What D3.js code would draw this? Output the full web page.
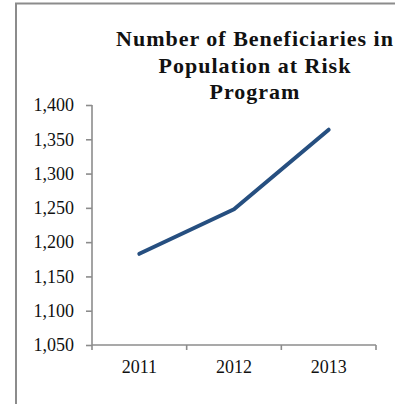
<!DOCTYPE html>
<html><head><meta charset="utf-8">
<script src="https://cdn.jsdelivr.net/npm/d3@7"></script>
<style>
html,body{margin:0;padding:0;background:#fff;}
svg{display:block;}
</style></head>
<body>
<svg id="chart" width="395" height="404"></svg>
<script>
const years = ["2011", "2012", "2013"];
const beneficiaries = [1183, 1248, 1364];
const yTicks = [1050, 1100, 1150, 1200, 1250, 1300, 1350, 1400];
const titleLines = ["Number of Beneficiaries in", "Population at Risk", "Program"];

const svg = d3.select("#chart");
const W = 395, H = 404;
const margin = {left: 92, right: 19, top: 105, bottom: 59};

// outer frame (only top and left visible)
svg.append("rect").attr("x", 16).attr("y", 3.5).attr("width", 420).attr("height", 440)
  .attr("fill", "none").attr("stroke", "#8c8c8c").attr("stroke-width", 2);

const x = d3.scaleBand().domain(years).range([margin.left, W - margin.right]).padding(0);
const y = d3.scaleLinear().domain([1050, 1400]).range([H - margin.bottom, margin.top]);

const font = "'Liberation Serif', 'Times New Roman', serif";

// y axis
const yAxis = svg.append("g").attr("transform", `translate(${margin.left},0)`)
  .call(d3.axisLeft(y).tickValues(yTicks).tickSize(6).tickPadding(12).tickFormat(d3.format(",")));
// x axis
const xAxis = svg.append("g").attr("transform", `translate(0,${H - margin.bottom})`)
  .call(d3.axisBottom(x).tickSize(0).tickPadding(15));
// x ticks at band boundaries
const bounds = years.map(d => x(d)).concat([x(years[years.length - 1]) + x.bandwidth()]);
xAxis.selectAll(".bound").data(bounds).join("line").attr("class", "bound")
  .attr("x1", d => d).attr("x2", d => d).attr("y1", 0).attr("y2", 5);

[yAxis, xAxis].forEach(g => {
  g.select(".domain").attr("stroke", "#8c8c8c").attr("stroke-width", 1.6);
  g.selectAll("line").attr("stroke", "#8c8c8c").attr("stroke-width", 1.6);
  g.selectAll("text").attr("font-family", font).attr("font-size", 18).attr("fill", "#111");
});
xAxis.select(".domain").attr("d", `M${margin.left},0H${W - margin.right}`);
yAxis.select(".domain").attr("d", `M0,${y(1400)}V${y(1050)}`);

// line
const line = d3.line().x((d, i) => x(years[i]) + x.bandwidth() / 2).y(d => y(d));
svg.append("path").datum(beneficiaries).attr("d", line)
  .attr("fill", "none").attr("stroke", "#264f80").attr("stroke-width", 4)
  .attr("stroke-linecap", "round").attr("stroke-linejoin", "round");

// title
const title = svg.append("text").attr("font-family", font).attr("font-weight", "bold")
  .attr("font-size", 22).attr("letter-spacing", 1).attr("fill", "#111").attr("text-anchor", "middle");
titleLines.forEach((t, i) => {
  title.append("tspan").attr("x", 255).attr("y", 46 + i * 26.5).text(t);
});
</script>
</body></html>
